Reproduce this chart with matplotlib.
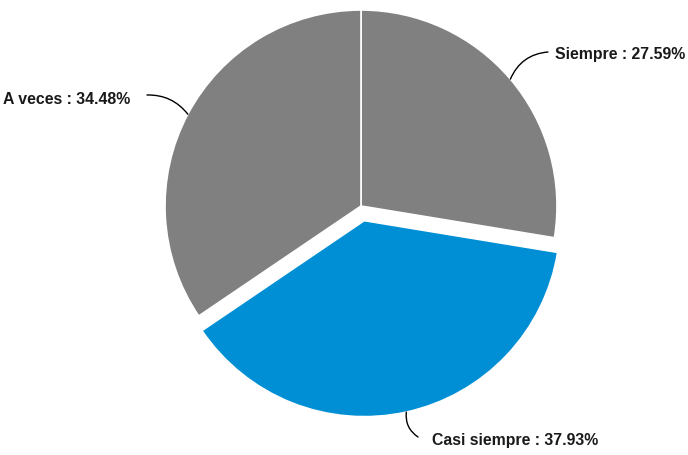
import numpy as np
import matplotlib.pyplot as plt

plt.rcParams['font.family'] = ['Liberation Sans', 'DejaVu Sans']

labels = ["Siempre", "Casi siempre", "A veces"]
values = [27.59, 37.93, 34.48]
colors = ["#808080", "#008FD5", "#808080"]
explode = [0, 15, 0]  # pie offsets in data units (px here)

# label placement (data coords, y up, 1 unit = 1 px)
text_pos = [(555, 400), (432, 15), (130, 355)]
text_ha = ["left", "left", "right"]
line_end = [(548, 403), (418, 18), (147, 360)]
line_rad = [0.3, -0.3, -0.25]

W, H = 688, 455
cx, cy, r = 361, 249, 196

fig = plt.figure(figsize=(W / 100, H / 100), dpi=100)
ax = fig.add_axes([0, 0, 1, 1])
ax.axis("off")

wedges, _ = ax.pie(values, colors=colors, explode=explode, startangle=90,
                   counterclock=False, center=(cx, cy), radius=r,
                   wedgeprops=dict(edgecolor="white", linewidth=1.2))
ax.set_xlim(0, W)
ax.set_ylim(0, H)
ax.set_aspect("equal")

for i, w in enumerate(wedges):
    mid = np.radians((w.theta1 + w.theta2) / 2)
    wx, wy = w.center
    edge = (wx + r * np.cos(mid), wy + r * np.sin(mid))
    ax.annotate("", xy=edge, xytext=line_end[i],
                arrowprops=dict(arrowstyle="-", color="black", lw=1,
                                shrinkA=0, shrinkB=0,
                                connectionstyle="arc3,rad=%s" % line_rad[i]))
    ax.text(text_pos[i][0], text_pos[i][1], "%s : %.2f%%" % (labels[i], values[i]),
            ha=text_ha[i], va="center", fontsize=11.4, fontweight="bold", color="#1a1a1a")

plt.savefig("out.png", dpi=100)
